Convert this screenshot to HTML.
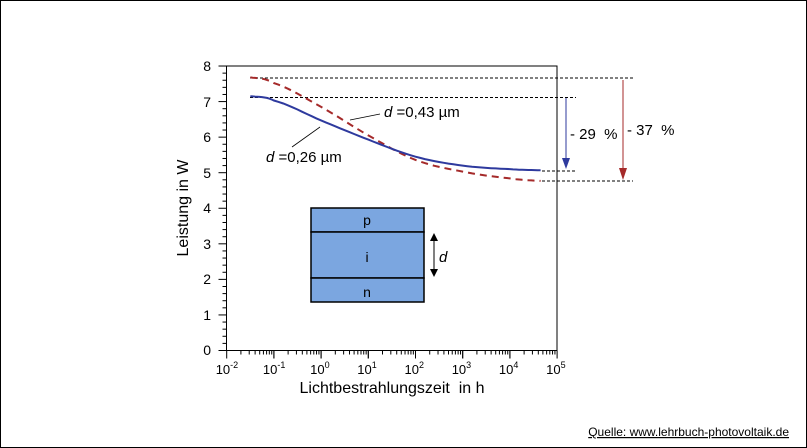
<!DOCTYPE html>
<html><head><meta charset="utf-8"><style>
body{margin:0;background:#fff}
svg{display:block;font-family:"Liberation Sans",Arial,sans-serif}
</style></head><body>
<svg id="s" width="807" height="448" viewBox="0 0 807 448" xmlns="http://www.w3.org/2000/svg">
<rect x="0.5" y="0.5" width="806" height="447" fill="#fff" stroke="#000"/>
<rect x="226.5" y="66" width="330.5" height="284.5" fill="none" stroke="#000" stroke-width="1"/>
<g id="ticks" stroke="#000" stroke-width="1"></g>
<g font-size="14" fill="#000" text-anchor="end">
<text x="211" y="71">8</text><text x="211" y="107">7</text><text x="211" y="142">6</text><text x="211" y="178">5</text><text x="211" y="213">4</text><text x="211" y="249">3</text><text x="211" y="284">2</text><text x="211" y="320">1</text><text x="211" y="355">0</text>
</g>
<g id="xl" font-size="13" fill="#000"></g>
<text x="392" y="393" font-size="16" text-anchor="middle">Lichtbestrahlungszeit&#160; in h</text>
<text transform="translate(188,208) rotate(-90)" font-size="16" text-anchor="middle">Leistung in W</text>
<g stroke="#000" stroke-width="1" stroke-dasharray="3,2" fill="none">
<line x1="250" y1="78" x2="633" y2="78"/>
<line x1="250" y1="97.5" x2="576" y2="97.5"/>
<line x1="542" y1="171" x2="576" y2="171"/>
<line x1="542" y1="181" x2="633" y2="181"/>
</g>
<path id="red" fill="none" stroke="#a52a2a" stroke-width="2" stroke-dasharray="7,5"/>
<path id="blue" fill="none" stroke="#2e3a9e" stroke-width="2"/>
<line x1="292" y1="147" x2="320" y2="127" stroke="#000" stroke-width="0.8"/>
<line x1="350" y1="120" x2="380" y2="114" stroke="#000" stroke-width="0.8"/>
<text x="384" y="117" font-size="15"><tspan font-style="italic">d</tspan> =0,43 µm</text>
<text x="266" y="162" font-size="15"><tspan font-style="italic">d</tspan> =0,26 µm</text>
<line x1="566" y1="98" x2="566" y2="158" stroke="#2e3a9e" stroke-width="1"/>
<polygon points="562,158 570,158 566,169" fill="#2e3a9e"/>
<line x1="623" y1="80" x2="623" y2="168" stroke="#a52a2a" stroke-width="1"/>
<polygon points="619,168 627,168 623,180" fill="#a52a2a"/>
<text x="570" y="139" font-size="15">- 29&#160; %</text>
<text x="627" y="135" font-size="15">- 37&#160; %</text>
<g stroke="#000" stroke-width="1.5" fill="#7ba6e0">
<rect x="311" y="208" width="113" height="24"/>
<rect x="311" y="232" width="113" height="46"/>
<rect x="311" y="278" width="113" height="24"/>
</g>
<text x="367" y="225" font-size="14" text-anchor="middle">p</text>
<text x="367" y="262" font-size="14" text-anchor="middle">i</text>
<text x="367" y="297" font-size="14" text-anchor="middle">n</text>
<line x1="434" y1="240" x2="434" y2="270" stroke="#000" stroke-width="1"/>
<polygon points="430,241 438,241 434,233" fill="#000"/>
<polygon points="430,269 438,269 434,277" fill="#000"/>
<text x="439" y="262" font-size="15" font-style="italic">d</text>
<text x="789" y="436" font-size="12" text-anchor="end" text-decoration="underline">Quelle: www.lehrbuch-photovoltaik.de</text>
</svg>
<script>
var X0=226.7,DX=47.2,Y0=350.5,DY=35.56;
function X(u){return X0+(u+2)*DX}function Y(p){return Y0-p*DY}
var t=document.getElementById("ticks"),h="";
for(var i=0;i<=40;i++){var y=Y(i/5);var L=i%5==0?8:4;h+='<line x1="'+(226.5-L)+'" y1="'+y+'" x2="226.5" y2="'+y+'"/>';}
for(var d=-2;d<5;d++){for(var k=1;k<=10;k++){var x=X(d+Math.log10(k));var L=(k==1||k==10)?8:4;h+='<line x1="'+x+'" y1="350.5" x2="'+x+'" y2="'+(350.5+L)+'"/>';}}
t.innerHTML=h;
var xl="";for(var d=-2;d<=5;d++){var x=X(d);xl+='<text x="'+(x-11)+'" y="374">10<tspan font-size="9" dy="-6">'+d+'</tspan></text>';}
document.getElementById("xl").innerHTML=xl;
function cr(us,ps){var s="";var n=us.length;
 for(var i=0;i<n-1;i++){var p0=ps[Math.max(i-1,0)],p1=ps[i],p2=ps[i+1],p3=ps[Math.min(i+2,n-1)];
  for(var j=0;j<=10;j++){var tt=j/10;var p=0.5*((2*p1)+(-p0+p2)*tt+(2*p0-5*p1+4*p2-p3)*tt*tt+(-p0+3*p1-3*p2+p3)*tt*tt*tt);
   var u=us[i]+(us[i+1]-us[i])*tt;s+=(s?"L":"M")+X(u).toFixed(1)+","+Y(p).toFixed(1);}}
 return s;}
var U=[-1.5,-1,0,1,2,3,4,4.65];
document.getElementById("blue").setAttribute("d",cr(U,[7.15,7.03,6.47,5.93,5.45,5.2,5.1,5.07]));
document.getElementById("red").setAttribute("d",cr(U,[7.68,7.52,6.85,6.05,5.36,5.03,4.84,4.77]));
</script>
</body></html>
